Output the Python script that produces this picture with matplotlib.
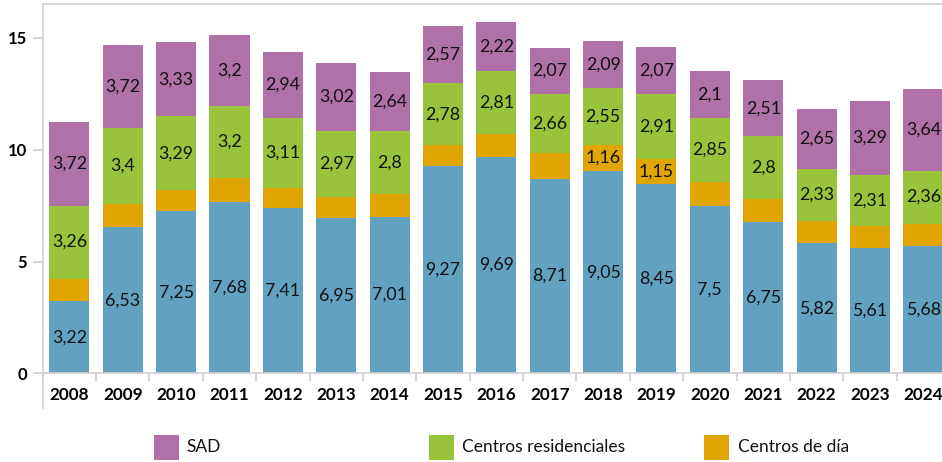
import matplotlib
matplotlib.use("Agg")
import matplotlib.pyplot as plt
from matplotlib.lines import Line2D
from matplotlib.patches import Rectangle
import numpy as np

years = ["2008", "2009", "2010", "2011", "2012", "2013", "2014", "2015", "2016",
         "2017", "2018", "2019", "2020", "2021", "2022", "2023", "2024"]
blue = [3.22, 6.53, 7.25, 7.68, 7.41, 6.95, 7.01, 9.27, 9.69, 8.71, 9.05, 8.45,
        7.5, 6.75, 5.82, 5.61, 5.68]
dia = [1.02, 1.05, 0.95, 1.06, 0.9, 0.93, 1.03, 0.93, 1.0, 1.13, 1.16, 1.15,
       1.07, 1.05, 1.0, 0.97, 1.02]
resid = [3.26, 3.4, 3.29, 3.2, 3.11, 2.97, 2.8, 2.78, 2.81, 2.66, 2.55, 2.91,
         2.85, 2.8, 2.33, 2.31, 2.36]
sad = [3.72, 3.72, 3.33, 3.2, 2.94, 3.02, 2.64, 2.57, 2.22, 2.07, 2.09, 2.07,
       2.1, 2.51, 2.65, 3.29, 3.64]
yticks = [0, 5, 10, 15]

c_blue = "#62a2c0"
c_dia = "#e0a500"
c_res = "#99c33b"
c_sad = "#b070a8"
gray = "#d0d0d0"
font = "Lato"

W, H = 942, 462
fig = plt.figure(figsize=(W / 100, H / 100), dpi=100)
ax = fig.add_axes([42.7 / W, 88.7 / H, 907.3 / W, 368.9 / H])

x = np.arange(len(years))
bw = 0.75
b0 = np.zeros(len(years))
series = [(blue, c_blue, 0), (dia, c_dia, 1.15), (resid, c_res, 0), (sad, c_sad, 0)]
for vals, col, minlab in series:
    vals = np.array(vals)
    ax.bar(x, vals, bw, bottom=b0, color=col, linewidth=0, zorder=2)
    for xi, v, b in zip(x, vals, b0):
        if v >= minlab:
            ax.text(xi, b + v / 2, f"{v:g}".replace(".", ","), ha="center",
                    va="center", fontsize=12.8, family=font, color="#111111", zorder=3)
    b0 = b0 + vals

ax.set_xlim(-0.5, 16.5)
ax.set_ylim(0, 16.5)
ax.set_yticks(yticks)
ax.set_yticklabels([str(t) for t in yticks], fontsize=12, fontweight="bold", family=font)
ax.set_xticks(x)
ax.set_xticklabels(years, fontsize=12.3, fontweight="bold", family=font)
ax.set_xticks(np.arange(-0.5, 17, 1), minor=True)
ax.tick_params(axis="x", which="major", length=0, pad=10)
ax.tick_params(axis="x", which="minor", length=6, color=gray, width=1.2)
ax.tick_params(axis="y", length=7, color=gray, width=1.2, pad=4)
for s in ["left", "bottom", "top", "right"]:
    ax.spines[s].set_color(gray)
    ax.spines[s].set_linewidth(1.2)

# extended left axis line below the plot
fig.add_artist(Line2D([42.7 / W, 42.7 / W], [1 - 408 / H, 88.7 / H],
                      color=gray, lw=1.2))

# legend
leg = [("SAD", c_sad, 154, 186.5), ("Centros residenciales", c_res, 429.3, 461.7),
       ("Centros de día", c_dia, 704.3, 737.7)]
for lab, col, px, tx in leg:
    fig.add_artist(Rectangle((px / W, 1 - 460 / H), 24.5 / W, 25 / H,
                             transform=fig.transFigure, color=col, lw=0))
    fig.text(tx / W, 1 - 447.5 / H, lab, fontsize=12.5, family=font,
             va="center", ha="left", color="#111111")

fig.savefig("out.png", dpi=100)
